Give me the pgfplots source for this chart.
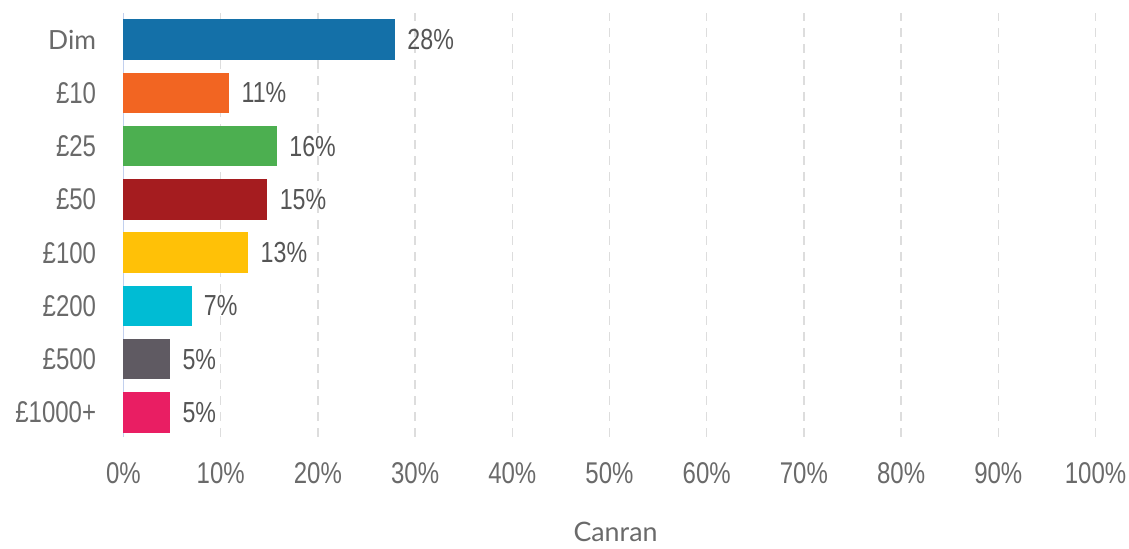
\documentclass[border=0pt]{standalone}
\usepackage{fontspec}
\setmainfont{Liberation Sans}[FakeStretch=0.8]
\newfontfamily\lato{Lato}
\usepackage{pgfplots}
\pgfplotsset{compat=1.18}
\definecolor{cDim}{HTML}{1470A8}
\definecolor{c10}{HTML}{F26522}
\definecolor{c25}{HTML}{4CAF50}
\definecolor{c50}{HTML}{A51C1F}
\definecolor{c100}{HTML}{FFC107}
\definecolor{c200}{HTML}{00BCD4}
\definecolor{c500}{HTML}{5F5A62}
\definecolor{c1000}{HTML}{E91E63}
\definecolor{tickgray}{HTML}{6A6A6A}
\definecolor{valgray}{HTML}{555555}
\definecolor{gridgray}{HTML}{DDDDDD}
\definecolor{axisblue}{HTML}{C2D0EE}
\begin{document}
\begin{tikzpicture}
\begin{axis}[
  scale only axis, width=486pt, height=212pt,
  xbar, bar width=0.76, bar shift=0pt,
  xmin=0, xmax=100, ymin=-0.454, ymax=7.507,
  /pgf/number format/assume math mode=true,
  xtick={0,10,...,100},
  xticklabel={\pgfmathprintnumber{\tick}\%},
  xticklabel style={anchor=center, inner sep=0pt, yshift=-18pt, font=\fontsize{15}{18}\selectfont, text=tickgray},
  ytick={0,...,7},
  yticklabels={£1000+,£500,£200,£100,£50,£25,£10,{\lato\fontsize{13.2}{16}\selectfont Dim}},
  yticklabel style={anchor=east, inner sep=0pt, xshift=-13.5pt, font=\fontsize{15}{18}\selectfont, text=tickgray},
  major tick length=0pt,
  xmajorgrids,
  grid style={gridgray, line width=0.7pt, dash pattern=on 4.5pt off 3.5pt},
  axis lines=left,
  x axis line style={draw=none, -},
  y axis line style={draw=axisblue, line width=0.7pt, -},
  xlabel={\lato Canran},
  xlabel style={at={(axis description cs:0.5,0)}, anchor=center, yshift=-47.7pt, xshift=3pt, font=\fontsize{13.4}{16}\selectfont, text=tickgray},
  point meta=x,
  nodes near coords={\pgfmathprintnumber[fixed,precision=0]{\pgfplotspointmeta}\%},
  every node near coord/.append style={anchor=west, inner sep=0pt, xshift=6pt, font=\fontsize{14.5}{17}\selectfont, text=valgray},
  clip=false,
]
\addplot[fill=cDim, draw=none] coordinates {(27.94,7)};
\addplot[fill=c10, draw=none] coordinates {(10.88,6)};
\addplot[fill=c25, draw=none] coordinates {(15.79,5)};
\addplot[fill=c50, draw=none] coordinates {(14.8,4)};
\addplot[fill=c100, draw=none] coordinates {(12.84,3)};
\addplot[fill=c200, draw=none] coordinates {(7.0,2)};
\addplot[fill=c500, draw=none] coordinates {(4.8,1)};
\addplot[fill=c1000, draw=none] coordinates {(4.8,0)};
\end{axis}
\path ([xshift=-61.75pt,yshift=-53.15pt]current axis.south west) rectangle ([xshift=16.75pt,yshift=6.35pt]current axis.north east);
\end{tikzpicture}
\end{document}
